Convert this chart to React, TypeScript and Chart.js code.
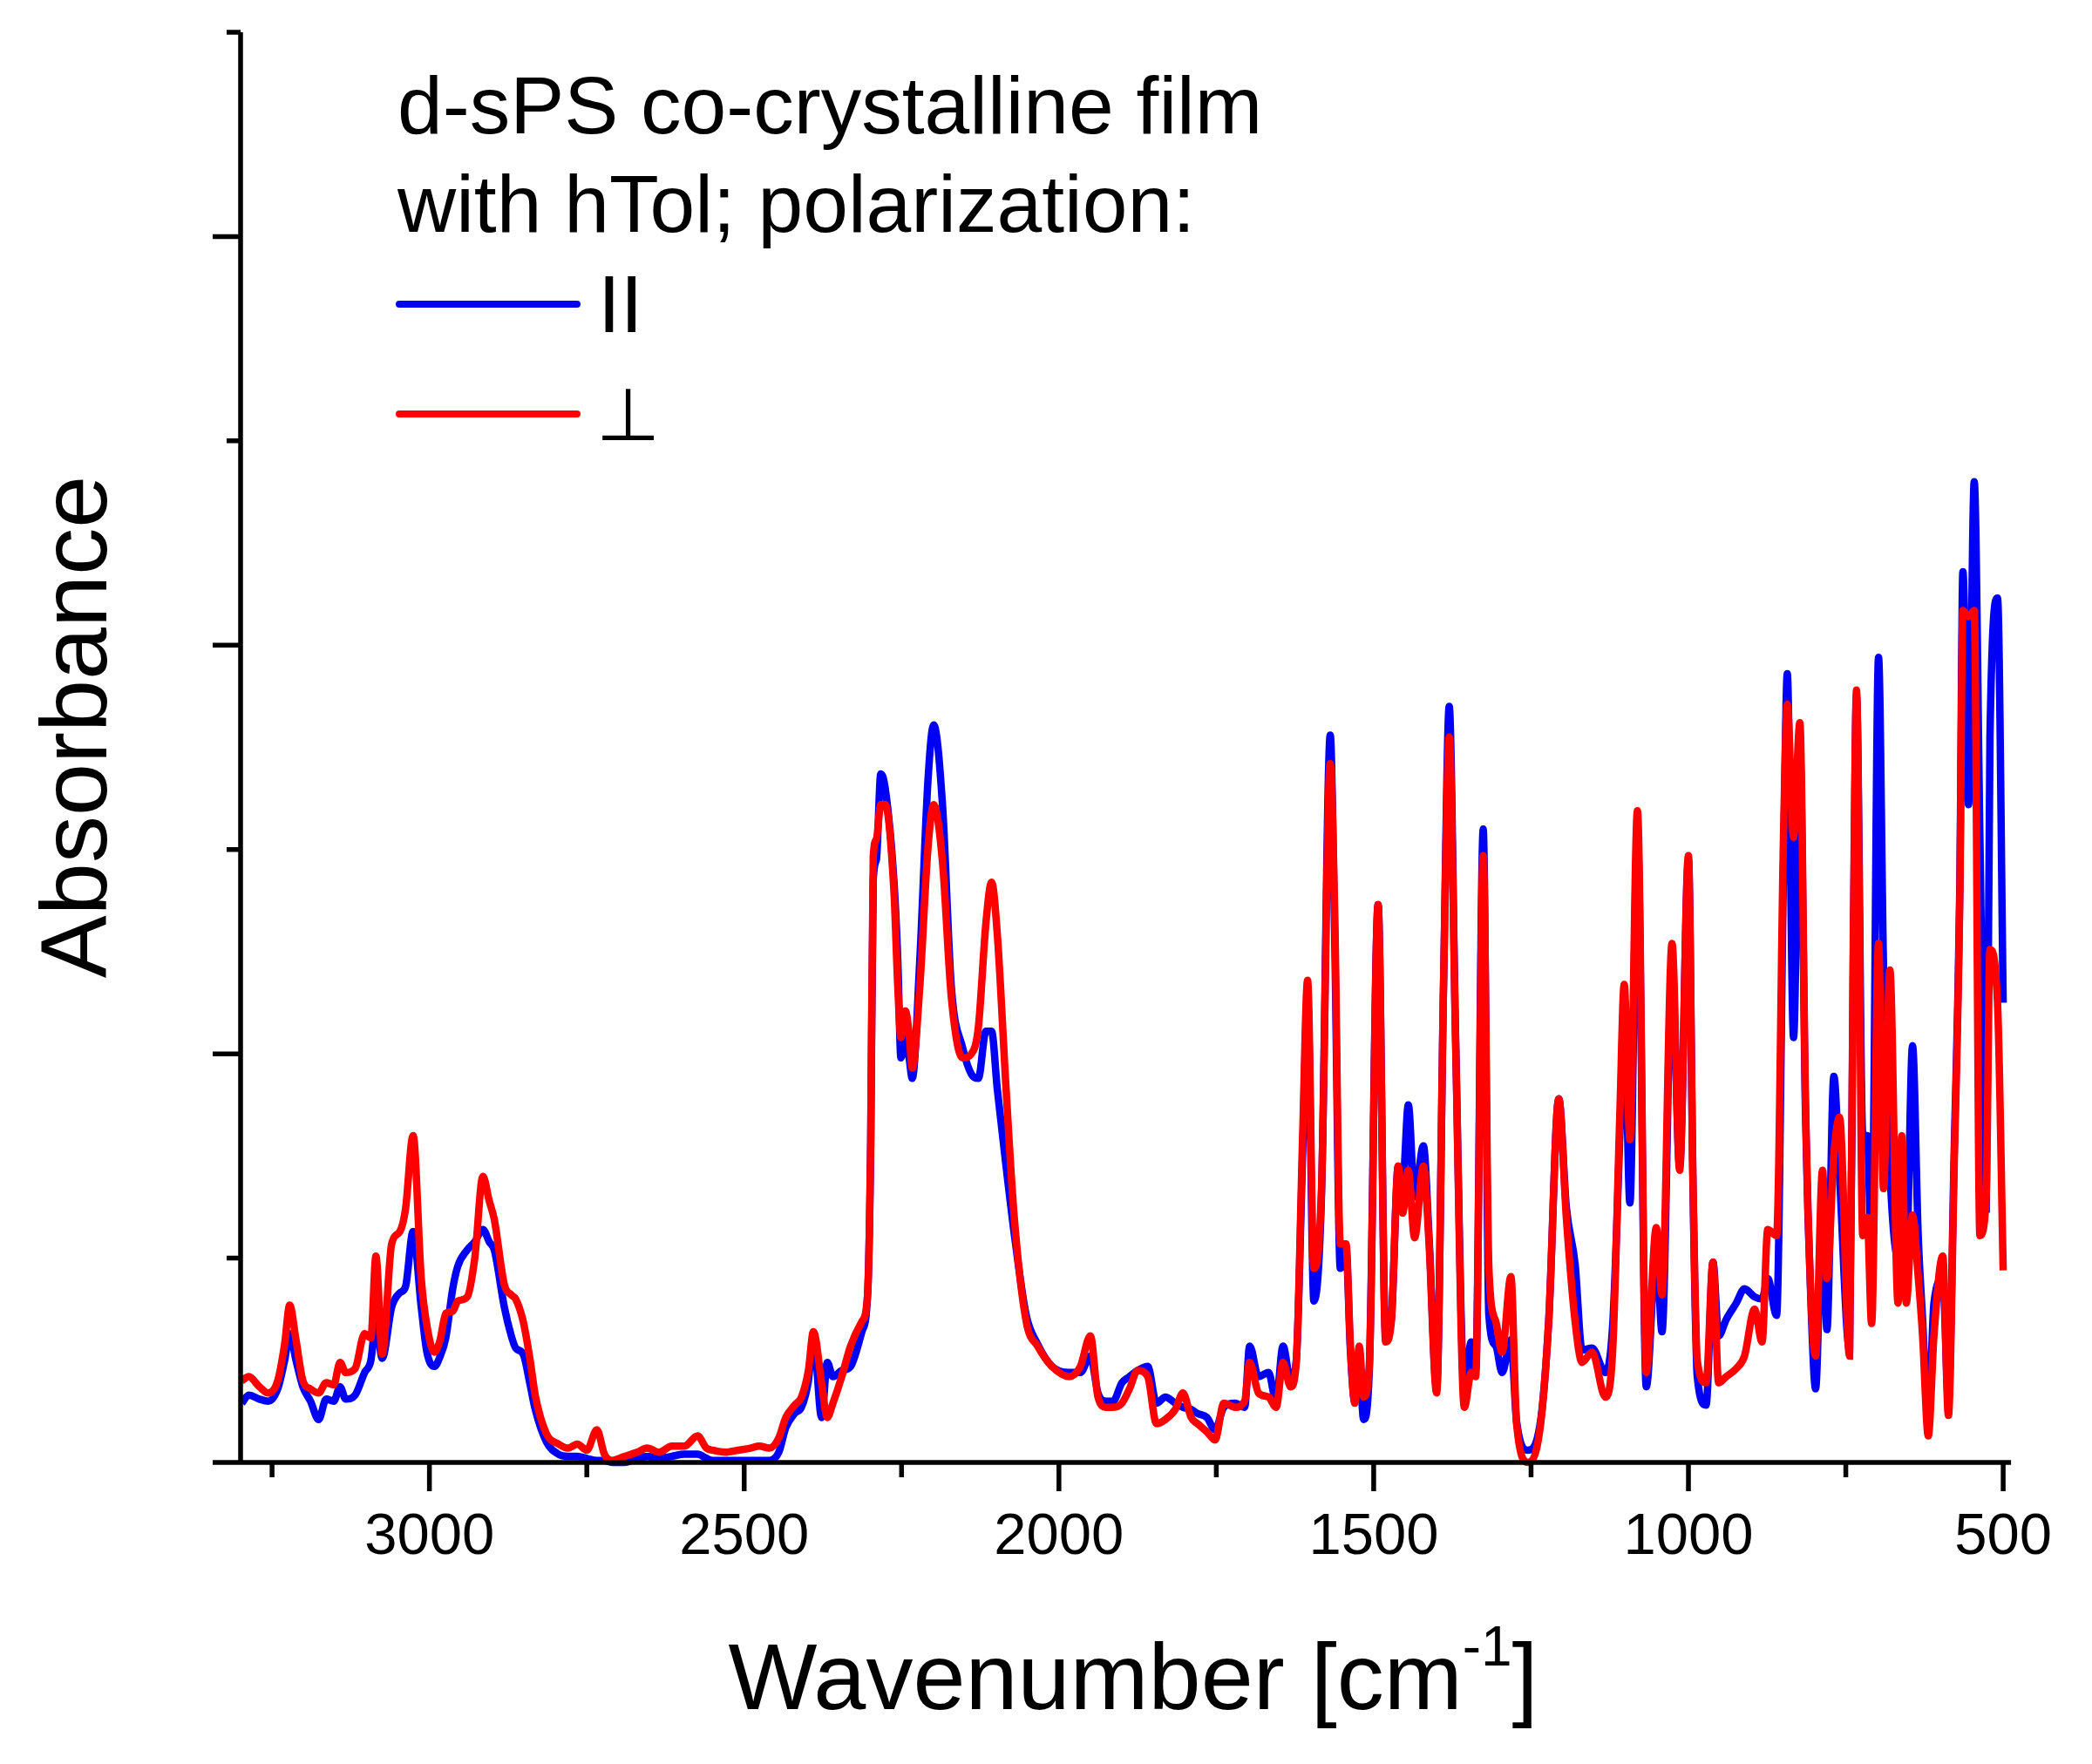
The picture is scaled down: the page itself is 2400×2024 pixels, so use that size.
import React, { useEffect, useRef } from 'react';
import { Chart, registerables } from 'chart.js';

Chart.register(...registerables);

// wavenumber [cm-1]
const wavenumbers = [
  3298, 3287, 3270, 3256, 3241, 3230, 3222, 3212, 3201, 3189, 3176, 3164, 3152, 3142, 3133, 3118,
  3103, 3093, 3085, 3075, 3060, 3047, 3038, 3026, 3013, 3004, 2992, 2983, 2974, 2963, 2955, 2940,
  2928, 2915, 2905, 2897, 2881, 2870, 2863, 2851, 2840, 2832, 2814, 2795, 2780, 2765, 2750, 2734,
  2722, 2710, 2690, 2670, 2654, 2635, 2615, 2595, 2574, 2560, 2550, 2530, 2510, 2490, 2476, 2460,
  2445, 2434, 2420, 2409, 2398, 2390, 2377, 2368, 2359, 2345, 2331, 2313, 2304, 2299, 2295, 2290,
  2283, 2276, 2262, 2256, 2251, 2244, 2238, 2233, 2221, 2208, 2199, 2185, 2171, 2153, 2139, 2128,
  2116, 2107, 2098, 2084, 2071, 2052, 2034, 2011, 1984, 1966, 1950, 1938, 1925, 1914, 1900, 1888,
  1875, 1859, 1845, 1831, 1815, 1803, 1790, 1780, 1765, 1752, 1738, 1720, 1705, 1697, 1683, 1667,
  1655, 1644, 1632, 1623, 1613, 1605, 1595, 1583, 1569, 1562, 1553, 1544, 1537, 1530, 1523, 1516,
  1507, 1493, 1481, 1472, 1461, 1454, 1445, 1435, 1421, 1412, 1400, 1389, 1380, 1370, 1356, 1345,
  1338, 1326, 1317, 1306, 1296, 1282, 1273, 1255, 1236, 1222, 1206, 1194, 1180, 1169, 1153, 1132,
  1120, 1109, 1102, 1093, 1081, 1067, 1051, 1042, 1026, 1014, 1000, 993, 986, 972, 961, 952,
  940, 924, 911, 895, 883, 874, 860, 849, 843, 833, 823, 814, 805, 798, 787, 780,
  769, 760, 744, 738, 733, 723, 716, 709, 698, 690, 680, 667, 661, 654, 644, 635,
  628, 619, 610, 596, 587, 578, 569, 564, 555, 546, 537, 527, 521, 509, 500,
];

// polarization parallel (blue)
const parallelAbs = [
  0.29, 0.33, 0.31, 0.30, 0.36, 0.50, 0.63, 0.50, 0.37, 0.30, 0.21, 0.31, 0.30, 0.37, 0.31, 0.33,
  0.44, 0.50, 0.69, 0.51, 0.76, 0.83, 0.86, 1.13, 0.76, 0.54, 0.47, 0.52, 0.61, 0.85, 0.96, 1.04,
  1.08, 1.14, 1.08, 1.04, 0.76, 0.62, 0.56, 0.53, 0.38, 0.26, 0.10, 0.04, 0.03, 0.03, 0.02, 0.01,
  0.01, 0.00, 0.00, 0.02, 0.03, 0.02, 0.03, 0.04, 0.04, 0.02, 0.01, 0.01, 0.01, 0.01, 0.01, 0.01,
  0.05, 0.17, 0.24, 0.27, 0.40, 0.62, 0.22, 0.49, 0.42, 0.45, 0.47, 0.64, 0.82, 1.55, 2.85, 2.95,
  3.37, 3.30, 2.84, 2.46, 1.98, 2.08, 1.98, 1.88, 2.46, 3.34, 3.61, 3.22, 2.33, 2.03, 1.90, 1.88,
  2.11, 2.11, 1.83, 1.45, 1.12, 0.72, 0.58, 0.47, 0.44, 0.44, 0.52, 0.34, 0.30, 0.30, 0.39, 0.42,
  0.45, 0.47, 0.29, 0.32, 0.29, 0.27, 0.26, 0.24, 0.22, 0.16, 0.27, 0.29, 0.27, 0.57, 0.42, 0.44,
  0.30, 0.57, 0.40, 0.50, 1.50, 2.28, 0.79, 1.30, 3.56, 2.59, 0.95, 1.05, 0.55, 0.30, 0.50, 0.21,
  0.45, 2.73, 0.62, 0.70, 1.45, 1.35, 1.75, 1.30, 1.55, 1.10, 0.36, 2.34, 3.70, 2.10, 0.37, 0.59,
  0.45, 3.10, 0.72, 0.57, 0.44, 0.60, 0.20, 0.06, 0.18, 0.69, 1.78, 1.25, 0.97, 0.55, 0.56, 0.44,
  0.69, 1.60, 2.25, 1.27, 3.10, 0.37, 1.05, 0.64, 2.45, 1.45, 2.95, 1.40, 0.42, 0.28, 0.98, 0.62,
  0.70, 0.78, 0.85, 0.81, 0.80, 0.90, 0.72, 2.90, 3.86, 2.08, 3.50, 1.70, 0.75, 0.36, 1.30, 0.65,
  1.89, 1.40, 0.55, 2.50, 3.75, 1.60, 1.60, 1.00, 3.94, 2.41, 1.43, 1.00, 1.50, 1.00, 2.04, 1.11,
  0.70, 0.20, 0.78, 0.90, 0.30, 1.50, 2.80, 4.36, 3.22, 4.80, 3.06, 1.24, 3.55, 4.23, 2.25,
];

// polarization perpendicular (red)
const perpendicularAbs = [
  0.40, 0.42, 0.37, 0.34, 0.40, 0.58, 0.77, 0.60, 0.40, 0.36, 0.34, 0.39, 0.38, 0.49, 0.44, 0.46,
  0.63, 0.61, 1.01, 0.53, 1.07, 1.13, 1.24, 1.60, 0.90, 0.67, 0.54, 0.60, 0.73, 0.74, 0.79, 0.81,
  1.00, 1.40, 1.28, 1.19, 0.87, 0.82, 0.80, 0.69, 0.50, 0.33, 0.14, 0.09, 0.07, 0.09, 0.06, 0.16,
  0.04, 0.01, 0.03, 0.05, 0.07, 0.05, 0.08, 0.08, 0.13, 0.07, 0.06, 0.05, 0.06, 0.07, 0.08, 0.07,
  0.12, 0.22, 0.28, 0.32, 0.45, 0.64, 0.39, 0.22, 0.29, 0.42, 0.57, 0.69, 0.82, 1.58, 2.96, 3.05,
  3.22, 3.22, 2.79, 2.33, 2.08, 2.21, 2.10, 1.93, 2.33, 3.01, 3.22, 2.94, 2.28, 1.98, 2.00, 2.13,
  2.64, 2.84, 2.59, 1.83, 1.20, 0.69, 0.57, 0.47, 0.42, 0.47, 0.62, 0.32, 0.27, 0.27, 0.29, 0.36,
  0.45, 0.42, 0.19, 0.21, 0.26, 0.34, 0.22, 0.19, 0.15, 0.11, 0.29, 0.27, 0.30, 0.49, 0.34, 0.32,
  0.27, 0.49, 0.37, 0.49, 1.58, 2.36, 0.95, 1.33, 3.42, 2.70, 1.07, 1.07, 0.57, 0.29, 0.57, 0.32,
  0.47, 2.73, 0.59, 0.69, 1.45, 1.22, 1.43, 1.10, 1.45, 1.07, 0.34, 2.34, 3.55, 2.08, 0.27, 0.44,
  0.42, 2.97, 0.95, 0.69, 0.54, 0.91, 0.19, 0.00, 0.16, 0.69, 1.78, 1.20, 0.69, 0.49, 0.54, 0.32,
  0.57, 1.70, 2.34, 1.58, 3.19, 0.44, 1.15, 0.82, 2.54, 1.43, 2.97, 1.43, 0.50, 0.39, 0.98, 0.39,
  0.42, 0.46, 0.52, 0.75, 0.59, 1.14, 1.11, 3.06, 3.71, 3.06, 3.62, 1.76, 0.78, 0.52, 1.43, 0.90,
  1.50, 1.69, 0.52, 2.60, 3.78, 1.11, 1.20, 0.68, 2.54, 1.34, 2.41, 0.78, 1.60, 0.78, 1.21, 0.91,
  0.62, 0.13, 0.62, 1.01, 0.23, 1.43, 2.74, 4.17, 4.14, 4.17, 1.11, 1.30, 2.51, 2.25, 0.94,
];

const seriesLabels = ['II', '\u22A5'];
const seriesColors = ['#0000F5', '#FF0000'];
const legendHeader = ['d-sPS co-crystalline film', 'with hTol; polarization:'];

const xMajorTicks = [3000, 2500, 2000, 1500, 1000, 500];
const xMinorTicks = [3250, 2750, 2250, 1750, 1250, 750];
const yMajorTicks = [0, 2, 4, 6];
const yMinorTicks = [1, 3, 5, 7];

const FONT = '"Liberation Sans", Arial, sans-serif';

// axes, tick marks and the two axis titles
const framePlugin = {
  id: 'frame',
  afterDatasetsDraw(chart: any) {
    const { ctx, chartArea } = chart;
    const xs = chart.scales.x;
    const ys = chart.scales.y;
    ctx.save();
    ctx.strokeStyle = '#000';
    ctx.lineWidth = 5.5;
    ctx.beginPath();
    ctx.moveTo(chartArea.left, chartArea.top);
    ctx.lineTo(chartArea.left, chartArea.bottom + 2.75);
    ctx.moveTo(chartArea.left, chartArea.bottom);
    ctx.lineTo(chartArea.right + 9, chartArea.bottom);
    xMajorTicks.forEach((v) => {
      const px = xs.getPixelForValue(v);
      ctx.moveTo(px, chartArea.bottom);
      ctx.lineTo(px, chartArea.bottom + 33);
    });
    xMinorTicks.forEach((v) => {
      const px = xs.getPixelForValue(v);
      ctx.moveTo(px, chartArea.bottom);
      ctx.lineTo(px, chartArea.bottom + 17);
    });
    yMajorTicks.forEach((v) => {
      const py = ys.getPixelForValue(v);
      ctx.moveTo(chartArea.left, py);
      ctx.lineTo(chartArea.left - 32, py);
    });
    yMinorTicks.forEach((v) => {
      const py = ys.getPixelForValue(v);
      ctx.moveTo(chartArea.left, py);
      ctx.lineTo(chartArea.left - 16, py);
    });
    ctx.stroke();

    ctx.fillStyle = '#000';
    // y title
    ctx.save();
    ctx.translate(122, 834);
    ctx.rotate(-Math.PI / 2);
    ctx.font = `108px ${FONT}`;
    ctx.textAlign = 'center';
    ctx.textBaseline = 'alphabetic';
    ctx.fillText('Absorbance', 0, 0);
    ctx.restore();

    // x title with superscript
    const main = 'Wavenumber [cm';
    const sup = '-1';
    const end = ']';
    ctx.textBaseline = 'alphabetic';
    ctx.textAlign = 'left';
    ctx.font = `108px ${FONT}`;
    const wMain = ctx.measureText(main).width;
    const wEnd = ctx.measureText(end).width;
    ctx.font = `64px ${FONT}`;
    const wSup = ctx.measureText(sup).width;
    const total = wMain + wSup + wEnd;
    let tx = 1300 - total / 2;
    const base = 1961;
    ctx.font = `108px ${FONT}`;
    ctx.fillText(main, tx, base);
    tx += wMain;
    ctx.font = `64px ${FONT}`;
    ctx.fillText(sup, tx, base - 50);
    tx += wSup;
    ctx.font = `108px ${FONT}`;
    ctx.fillText(end, tx, base);
    ctx.restore();
  },
};

// legend drawn inside the plot, as in the figure
const legendPlugin = {
  id: 'insideLegend',
  afterDraw(chart: any) {
    const { ctx } = chart;
    ctx.save();
    ctx.fillStyle = '#000';
    ctx.textAlign = 'left';
    ctx.textBaseline = 'alphabetic';
    ctx.font = `93px ${FONT}`;
    legendHeader.forEach((line, i) => {
      ctx.fillText(line, 456, 153 + i * 113);
    });
    const rows = [
      { y: 349, textX: 686, base: 381, font: `93px ${FONT}` },
      { y: 475, textX: 684, base: 505, font: '84px "DejaVu Sans", sans-serif' },
    ];
    chart.data.datasets.forEach((ds: any, i: number) => {
      const r = rows[i];
      ctx.strokeStyle = ds.borderColor;
      ctx.lineWidth = 8;
      ctx.lineCap = 'round';
      ctx.beginPath();
      ctx.moveTo(458, r.y);
      ctx.lineTo(662, r.y);
      ctx.stroke();
      ctx.font = r.font;
      ctx.fillText(ds.label, r.textX, r.base);
    });
    ctx.restore();
  },
};

const App: React.FC = () => {
  const canvasRef = useRef<HTMLCanvasElement>(null);
  const chartRef = useRef<Chart | null>(null);

  useEffect(() => {
    if (!canvasRef.current) return;
    const ctx = canvasRef.current.getContext('2d');
    if (!ctx) return;

    if (chartRef.current) {
      chartRef.current.destroy();
      chartRef.current = null;
    }

    const toPoints = (ys: number[]) => wavenumbers.map((x, i) => ({ x, y: ys[i] }));

    chartRef.current = new Chart(ctx, {
      type: 'line',
      data: {
        datasets: [
          {
            label: seriesLabels[0],
            data: toPoints(parallelAbs),
            borderColor: seriesColors[0],
            borderWidth: 8.5,
            pointRadius: 0,
            cubicInterpolationMode: 'monotone',
            clip: false,
            order: 1,
          },
          {
            label: seriesLabels[1],
            data: toPoints(perpendicularAbs),
            borderColor: seriesColors[1],
            borderWidth: 8.5,
            pointRadius: 0,
            cubicInterpolationMode: 'monotone',
            clip: false,
            order: 0,
          },
        ],
      },
      options: {
        animation: false,
        responsive: true,
        maintainAspectRatio: false,
        devicePixelRatio: 1,
        layout: { padding: { left: 276, right: 93, top: 37, bottom: 0 } },
        plugins: {
          legend: { display: false },
          tooltip: { enabled: false },
        },
        scales: {
          x: {
            type: 'linear',
            reverse: true,
            min: 500,
            max: 3300,
            afterBuildTicks: (scale: any) => {
              scale.ticks = xMajorTicks.map((value) => ({ value }));
            },
            afterFit: (scale: any) => {
              scale.height = 346;
            },
            grid: { display: false, drawTicks: false },
            border: { display: false },
            ticks: {
              autoSkip: false,
              maxRotation: 0,
              padding: 46,
              color: '#000',
              font: { family: FONT, size: 67 },
              callback: (value: any) => String(value),
            },
          },
          y: {
            display: false,
            min: 0,
            max: 7,
          },
        },
      },
      plugins: [framePlugin, legendPlugin],
    });

    return () => {
      if (chartRef.current) {
        chartRef.current.destroy();
        chartRef.current = null;
      }
    };
  }, []);

  return (
    <div style={{ position: 'absolute', left: 0, top: 0, width: 2400, height: 2024, background: '#fff' }}>
      <canvas ref={canvasRef} />
    </div>
  );
};

export default App;
